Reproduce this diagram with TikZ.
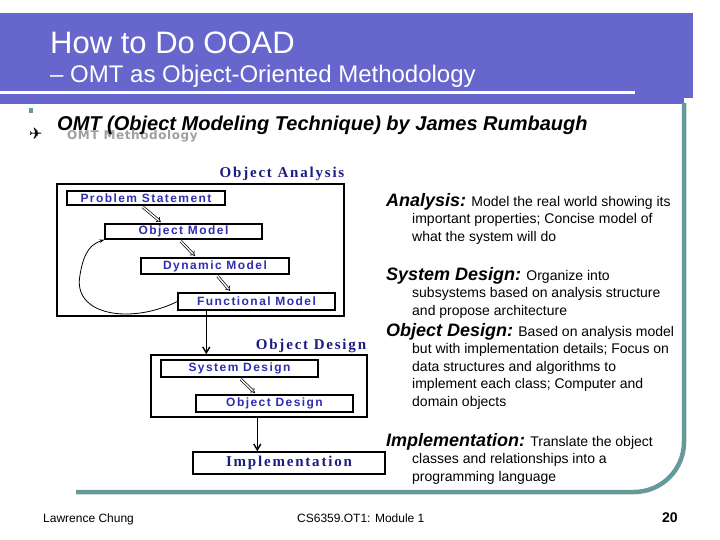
\documentclass[tikz,border=0pt]{standalone}
\usepackage{fontspec}
\setmainfont{Liberation Sans}
\newfontfamily\scanfont[LetterSpace=12]{Liberation Sans}
\newfontfamily\scangray[LetterSpace=5]{DejaVu Sans}
\newfontfamily\scanserif[LetterSpace=12]{Liberation Serif}
\newfontfamily\symfont{DejaVu Sans}
\usepackage{xcolor}
\definecolor{SlidePurple}{HTML}{6666CC}
\definecolor{SlideTeal}{HTML}{669999}
\definecolor{ScanNavy}{HTML}{1C1C80}
\definecolor{ScanBlue}{HTML}{2E2EB0}
\usepackage{tikz}
\usetikzlibrary{arrows.meta, positioning}
\newcommand{\notehead}[1]{{\fontsize{18}{20}\selectfont\bfseries\itshape #1}}
\newcommand{\noteindent}{\hspace*{26pt}}
\tikzset{
  % Box styles
  outerbox/.style={rectangle, draw=black, line width=1.4pt, inner sep=0pt},
  stepbox/.style={rectangle, draw=black, line width=1.4pt, fill=white, inner sep=0pt, font=\scanfont\fontsize{12}{13}\bfseries, text=ScanBlue},
  phaselabel/.style={font=\scanserif\fontsize{15}{17}\bfseries, text=ScanNavy, inner sep=0pt},
  notetext/.style={anchor=base west, align=left, inner sep=0pt, font=\fontsize{14}{17.5}\selectfont},
  plaintext/.style={anchor=base west, inner sep=0pt},
  % Arrow styles
  dblarrow/.style={double, double distance=1.4pt, line width=0.7pt, -{Implies}, shorten <=2pt, shorten >=2pt},
  flowarrow/.style={line width=1.4pt, -{Straight Barb[length=6pt, width=7pt]}},
  backarrow/.style={line width=0.8pt, -{Stealth[length=5pt]}}
}

\begin{document}
\begin{tikzpicture}[x=1pt, y=-1pt]
  \useasboundingbox (0,0) rectangle (720,540);

  % header band
  \fill[SlidePurple] (0,13) rectangle (693,98);
  \fill[SlidePurple] (0,98) rectangle (684,104);
  \fill[white] (0,91) rectangle (635,94);
  \node[plaintext, text=white, font=\fontsize{31}{36}\selectfont] (title) at (50,54) {How to Do OOAD};
  \node[plaintext, text=white, font=\fontsize{24}{28}\selectfont] (subtitle) at (50,83) {-- OMT as Object-Oriented Methodology};

  % page frame
  \draw[SlideTeal, line width=4.5pt, rounded corners=50pt] (684,103) -- (684,492) -- (76,492);
  \fill[SlideTeal] (29,108) rectangle (33,113);

  % scanned figure
  \node[plaintext, font=\symfont\fontsize{16}{18}\selectfont] (plane) at (29,140) {✈};
  \node[plaintext, font=\scangray\fontsize{12}{14}\bfseries, text=gray!75] (scantitle) at (67,140) {OMT Methodology};
  \node[plaintext, font=\fontsize{20}{24}\bfseries\itshape] (heading) at (57,131) {OMT (Object Modeling Technique) by James Rumbaugh};

  \node[outerbox, minimum width=287pt, minimum height=132pt] (anabox) at (200.5,250) {};
  \node[phaselabel] (analabel) at (282,174) {Object Analysis};
  \node[stepbox, minimum width=158pt, minimum height=14pt] (ps) at (146,198) {Problem Statement};
  \node[stepbox, minimum width=157pt, minimum height=15pt] (om) at (183.5,231.5) {Object Model};
  \node[stepbox, minimum width=148pt, minimum height=16pt] (dm) at (215,266) {Dynamic Model};
  \node[stepbox, minimum width=157pt, minimum height=17pt] (fm) at (256.5,301.5) {Functional Model};

  \node[outerbox, minimum width=216pt, minimum height=62pt] (desbox) at (259,386) {};
  \node[phaselabel] (deslabel) at (311,346) {Object Design};
  \node[stepbox, minimum width=157pt, minimum height=17pt] (sd) at (239.5,368.5) {System Design};
  \node[stepbox, minimum width=157pt, minimum height=17pt] (od) at (274.5,403.5) {Object Design};
  \node[stepbox, font=\scanserif\fontsize{15}{17}\bfseries, text=ScanNavy, minimum width=192pt, minimum height=22pt] (impl) at (289,463) {Implementation};

  \draw[dblarrow] ([xshift=75pt]ps.south west) -- ([xshift=58pt]om.north west);
  \draw[dblarrow] ([xshift=75pt]om.south west) -- ([xshift=56pt]dm.north west);
  \draw[dblarrow] ([xshift=76pt]dm.south west) -- ([xshift=54pt]fm.north west);
  \draw[dblarrow] ([xshift=79pt]sd.south west) -- ([xshift=61pt]od.north west);
  \draw[backarrow] (fm.west) .. controls (130,325) and (72,315) .. (80,275) .. controls (84,250) and (92,244) .. (om.south west);

  \coordinate (fmout) at ([xshift=29pt]fm.south west);
  \draw[flowarrow] (fmout) -- (fmout |- desbox.north);
  \coordinate (desout) at ([xshift=107pt]desbox.south west);
  \draw[flowarrow] (desout) -- (desout |- impl.north);

  % notes (base = last line)
  \node[notetext] (ananote) at (386,241) {\notehead{Analysis:} Model the real world showing its\\\noteindent important properties; Concise model of\\\noteindent what the system will do};
  \node[notetext] (sysnote) at (386,315) {\notehead{System Design:} Organize into\\\noteindent subsystems based on analysis structure\\\noteindent and propose architecture};
  \node[notetext] (objnote) at (386,406) {\notehead{Object Design:} Based on analysis model\\\noteindent but with implementation details; Focus on\\\noteindent data structures and algorithms to\\\noteindent implement each class; Computer and\\\noteindent domain objects};
  \node[notetext] (impnote) at (386,481) {\notehead{Implementation:} Translate the object\\\noteindent classes and relationships into a\\\noteindent programming language};

  % footer
  \node[plaintext, font=\fontsize{12}{14}\selectfont] (author) at (43,522) {Lawrence Chung};
  \node[plaintext, font=\fontsize{12}{14}\selectfont] (course) at (297,522) {CS6359.OT1: Module 1};
  \node[plaintext, font=\fontsize{14}{16}\bfseries] (pagenum) at (662,522) {20};
\end{tikzpicture}
\end{document}
